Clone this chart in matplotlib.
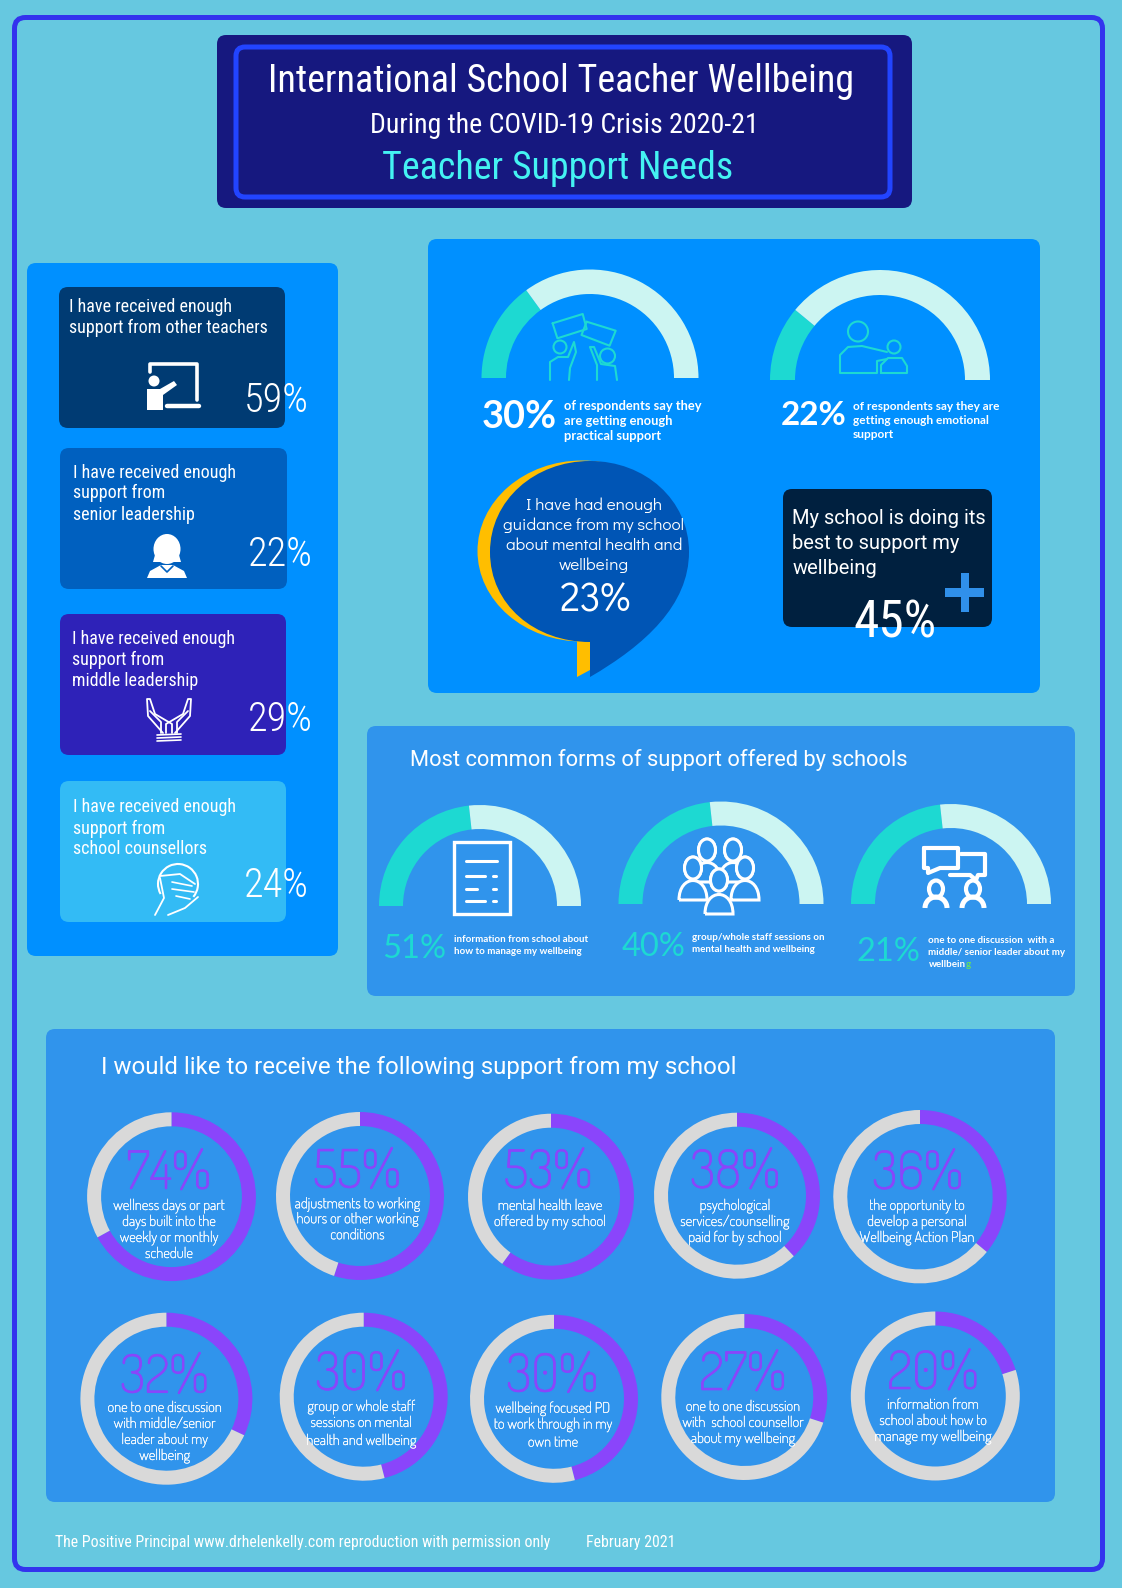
import matplotlib
matplotlib.use('Agg')
import matplotlib.pyplot as plt
import matplotlib.patches as patches
import matplotlib.patheffects as pe
from matplotlib.path import Path

# --- data ---
card_lines = [
    ['I have received enough', 'support from other teachers'],
    ['I have received enough', 'support from', 'senior leadership'],
    ['I have received enough', 'support from', 'middle leadership'],
    ['I have received enough', 'support from', 'school counsellors'],
]
card_values = ['59%', '22%', '29%', '24%']

top_labels = ['30%', '22%']
top_fill = [0.30, 0.22]
top_text = [
    ['of respondents say they', 'are getting enough', 'practical support'],
    ['of respondents say they are', 'getting enough emotional', 'support'],
]

common_labels = ['51%', '40%', '21%']
common_fill = [0.465, 0.465, 0.465]  # the arcs in the original all stop at the same place
common_text = [
    ['information from school about', 'how to manage my wellbeing'],
    ['group/whole staff sessions on', 'mental health and wellbeing'],
    ['one to one discussion  with a', 'middle/ senior leader about my', 'wellbein'],
]

ring_labels = ['74%', '55%', '53%', '38%', '36%', '32%', '30%', '30%', '27%', '20%']
ring_fill = [0.67, 0.55, 0.60, 0.38, 0.36, 0.32, 0.46, 0.46, 0.30, 0.20]  # as drawn
ring_text = [
    ['wellness days or part', 'days built into the', 'weekly or monthly', 'schedule'],
    ['adjustments to working', 'hours or other working', 'conditions'],
    ['mental health leave', 'offered by my school'],
    ['psychological', 'services/counselling', 'paid for by school'],
    ['the opportunity to', 'develop a personal', 'Wellbeing Action Plan'],
    ['one to one discussion', 'with middle/senior', 'leader about my', 'wellbeing'],
    ['group or whole staff', 'sessions on mental', 'health and wellbeing'],
    ['wellbeing focused PD', 'to work through in my', 'own time'],
    ['one to one discussion', 'with  school counsellor', 'about my wellbeing'],
    ['information from', 'school about how to', 'manage my wellbeing'],
]

# --- layout, in reference pixels ---
W, H = 1122, 1588
BG = '#66c8e0'
BRIGHT = '#0090ff'
MID = '#3094ec'
TEAL = '#1dd9d2'
PALE = '#ccf5f2'
PURPLE = '#8a45fb'
GREY = '#d9d9d9'
NARROW = ['Roboto Condensed', 'Archivo Narrow', 'Roboto']
DOSIS = ['Dosis', 'Roboto']
DIDACT = ['Didact Gothic', 'Lato']

fig = plt.figure(figsize=(W / 100, H / 100), dpi=100, facecolor=BG)
ax = fig.add_axes([0, 0, 1, 1])
ax.set_xlim(0, W)
ax.set_ylim(H, 0)
ax.axis('off')


def box(x0, y0, x1, y1, color, r=8, ec='none', lw=0, z=1):
    ax.add_patch(patches.FancyBboxPatch((x0 + r, y0 + r), x1 - x0 - 2 * r, y1 - y0 - 2 * r,
                                        boxstyle=f'round,pad={r},rounding_size={r}',
                                        facecolor=color, edgecolor=ec, linewidth=lw, zorder=z))


def txt(x, y, s, size, color='white', font='Roboto', ha='left', weight='normal', z=6, thicken=0):
    t = ax.text(x, y, s, fontsize=size, color=color, family=font, ha=ha, va='baseline',
                fontweight=weight, zorder=z)
    if thicken:
        # the Dosis here is the extra light cut, a hair of stroke brings it up to the original weight
        t.set_path_effects([pe.withStroke(linewidth=thicken, foreground=color)])
    return t


def line(pts, color='white', lw=2.0, z=5):
    ax.plot([p[0] for p in pts], [p[1] for p in pts], color=color, lw=lw, zorder=z,
            solid_capstyle='round', solid_joinstyle='round')


def poly(pts, color='white', z=5):
    ax.add_patch(patches.Polygon(pts, closed=True, facecolor=color, edgecolor='none', zorder=z))


def circle(x, y, r, color='white', lw=2.0, fill=False, z=5):
    ax.add_patch(patches.Circle((x, y), r, facecolor=color if fill else 'none',
                                edgecolor=color, linewidth=lw, zorder=z))


def gauge(cx, cy, r, width, frac):
    # y axis is inverted, so angles run clockwise on screen
    split = 180 + 180 * frac
    ax.add_patch(patches.Wedge((cx, cy), r, 180, split, width=width, facecolor=TEAL, edgecolor='none', zorder=3))
    ax.add_patch(patches.Wedge((cx, cy), r, split, 360, width=width, facecolor=PALE, edgecolor='none', zorder=3))


def ring(cx, cy, r, frac):
    split = -90 + 360 * frac
    ax.add_patch(patches.Wedge((cx, cy), r, -90, split, width=14, facecolor=PURPLE, edgecolor='none', zorder=3))
    ax.add_patch(patches.Wedge((cx, cy), r, split, 270, width=14, facecolor=GREY, edgecolor='none', zorder=3))


# --- frame ---
box(14.5, 17.5, 1102.5, 1569.5, BG, r=11, ec='#3333ee', lw=3.6, z=0)

# --- header ---
box(217, 35, 912, 208, '#16187f', r=9)
box(236, 47, 890, 197, '#16187f', r=9, ec='#2244ff', lw=3.6)
txt(561, 92, 'International School Teacher Wellbeing', 27.4, font=NARROW, ha='center')
txt(564, 133, 'During the COVID-19 Crisis 2020-21', 20.1, font=NARROW, ha='center')
txt(557.5, 179, 'Teacher Support Needs', 27.4, color='#44f2f2', font=NARROW, ha='center')

# --- left panel ---
box(27, 263, 338, 956, BRIGHT, r=9)
card_rects = [(59, 287, 285, 428), (60, 448, 287, 589), (60, 614, 286, 755), (60, 781, 286, 922)]
card_colors = ['#003b73', '#0060bf', '#2e22b8', '#33bbf5']
card_text_xy = [(69, 312), (73, 477.5), (72.5, 644), (73, 812.5)]
card_value_xy = [(244, 412), (247.5, 565.5), (247.5, 731), (243.5, 897)]
for rect, col, tp, vp, lines, val in zip(card_rects, card_colors, card_text_xy, card_value_xy, card_lines, card_values):
    box(*rect, col, r=9, z=2)
    for i, s in enumerate(lines):
        txt(tp[0], tp[1] + 21 * i, s, 13, font=NARROW)
    txt(vp[0], vp[1], val, 29, font=NARROW, weight=300)

# teacher at a board
line([(150, 372), (150, 364), (197, 364), (197, 400)], lw=2.6)
line([(167, 405.5), (199, 405.5)], lw=3.2)
circle(154, 381, 5.5, fill=True, lw=0)
poly([(147, 389), (160, 389), (174, 381), (177, 385), (163, 395), (163, 410), (147, 410)])

# woman with collar
ax.add_patch(patches.Ellipse((167, 549), 27, 30, facecolor='white', edgecolor='none', zorder=5))
poly([(153, 562), (157, 548), (177, 548), (181, 562)])
poly([(147, 578), (150, 571), (161, 565), (173, 565), (184, 571), (187, 578)])
line([(161, 566), (167, 572), (173, 566)], color='#0060bf', lw=1.2, z=6)

# open hands
for sgn in (-1, 1):
    mx = 169
    hand = [(3, 733), (3, 724), (-14, 714), (-19, 699), (-22, 699), (-21, 716), (-6, 733)]
    line([(mx + sgn * a, b) for a, b in hand], lw=1.3)
    line([(mx + sgn * 8, 733), (mx + sgn * 8, 722), (mx + sgn * 19, 711)], lw=1.3)
for yy in (734, 737, 740):
    line([(157, yy + 1), (181, yy)], lw=1.2)

# hand over a face
ax.add_patch(patches.Arc((178, 884), 40, 40, theta1=150, theta2=400, edgecolor='white', lw=1.5, zorder=5))
line([(160, 876), (180, 874), (195, 884)], lw=1.3)
line([(160, 878), (164, 898), (155, 915)], lw=1.3)
line([(168, 915), (185, 908), (198, 897)], lw=1.3)
line([(172, 882), (192, 886)], lw=1.2)
line([(172, 889), (194, 892)], lw=1.2)
line([(176, 896), (190, 899)], lw=1.2)

# --- top right panel ---
box(428, 239, 1040, 693, BRIGHT, r=9)
gauge(590, 378, 108.5, 24.5, top_fill[0])
gauge(880, 380, 110, 25, top_fill[1])
txt(482, 428, top_labels[0], 27.3, font='Lato', weight='bold')
txt(781, 425, top_labels[1], 24, font='Lato', weight='bold')
for i, s in enumerate(top_text[0]):
    txt(564, 410 + 15 * i, s, 9.3, font='Lato', weight='bold')
for i, s in enumerate(top_text[1]):
    txt(853, 410 + 14 * i, s, 8.6, font='Lato', weight='bold')

# people holding up signs
for sign in ([(552.6, 323.3), (582.7, 314), (586.7, 329), (557.4, 338.3), (552.6, 323.3)],
             [(586.7, 321.7), (615.7, 330.7), (609.6, 345.7), (581.5, 335), (586.7, 321.7)]):
    line(sign, color=TEAL, lw=1.5)
circle(560, 347, 6.5, color=TEAL, lw=1.5)
circle(607.5, 356, 7.5, color=TEAL, lw=1.5)
line([(550, 380), (550, 362), (558, 357), (568, 357), (574, 342), (576, 352), (570, 368), (569, 380)], color=TEAL, lw=1.5)
line([(597, 380), (597, 365), (590, 347), (594, 347), (601, 364), (615, 366), (617, 380)], color=TEAL, lw=1.5)

# two people talking
circle(858, 331.5, 10, color=TEAL, lw=1.5)
circle(894, 347, 6.5, color=TEAL, lw=1.5)
line([(887, 352), (862, 346), (848, 347), (840, 355), (840, 373), (877, 373), (877, 361), (887, 359)], color=TEAL, lw=1.5)
line([(881, 373), (907, 373), (907, 366), (902, 358), (888, 358), (881, 365), (881, 373)], color=TEAL, lw=1.5)

# speech bubble
ax.add_patch(patches.Ellipse((582, 551), 209, 181, facecolor='#ffbe00', edgecolor='none', zorder=3))
poly([(577, 640), (590, 640), (590, 670), (577, 677)], color='#ffbe00', z=3)
bubble = Path([(590, 461), (645, 461), (689, 500), (689, 552), (689, 605), (645, 645), (590, 677),
               (590, 642), (535, 642), (490, 605), (490, 552), (490, 500), (535, 461), (590, 461)],
              [Path.MOVETO, Path.CURVE4, Path.CURVE4, Path.CURVE4, Path.CURVE4, Path.CURVE4, Path.CURVE4,
               Path.LINETO, Path.CURVE4, Path.CURVE4, Path.CURVE4, Path.CURVE4, Path.CURVE4, Path.CURVE4])
ax.add_patch(patches.PathPatch(bubble, facecolor='#0055b5', edgecolor='none', zorder=4))
for s, yy in zip(['I have had enough', 'guidance from my school', 'about mental health and', 'wellbeing'],
                 [510, 530, 550, 570]):
    txt(594, yy, s, 12.3, font=DIDACT, ha='center')
txt(596, 612, '23%', 29, font=DIDACT, ha='center')

# school box
box(783, 489, 992, 627, '#00203f', r=9, z=3)
for s, yy in zip(['My school is doing its', 'best to support my', 'wellbeing'], [524, 549, 574]):
    txt(792.5, yy, s, 14.5, font='Roboto')
ax.add_patch(patches.Rectangle((945.5, 588), 39, 9, facecolor='#3090ea', edgecolor='none', zorder=5))
ax.add_patch(patches.Rectangle((961, 573), 8, 39, facecolor='#3090ea', edgecolor='none', zorder=5))
txt(895, 637, '45%', 37, font=NARROW, ha='center')

# --- middle panel ---
box(367, 726, 1075, 996, MID, r=9)
txt(410, 766, 'Most common forms of support offered by schools', 15.75, font='Roboto')
gauge_xy = [(480, 906, 101), (721, 904, 102.5), (951, 904, 100)]
value_xy = [(382, 957.5), (622, 955.5), (856.5, 961)]
text_xy = [(454, 941.5), (692, 940), (928.5, 943)]
for (cx, cy, r), f, lab, vp, tp, lines in zip(gauge_xy, common_fill, common_labels, value_xy, text_xy, common_text):
    gauge(cx, cy, r, 24, f)
    txt(vp[0], vp[1], lab, 23.5, color=TEAL, font='Lato')
    for i, s in enumerate(lines):
        last = txt(tp[0], tp[1] + 12 * i, s, 7.1, font='Lato', weight='bold')
ax.annotate('g', xy=(1, 0), xycoords=last, va='bottom', ha='left', fontsize=7.1, color='#66e060',
            family='Lato', fontweight='bold', zorder=6)

# document
ax.add_patch(patches.Rectangle((454, 842), 56, 72, facecolor='none', edgecolor='white', linewidth=2.4, zorder=5))
line([(466, 861), (497, 861)], lw=2.2)
for yy, x1 in zip([876, 888.5, 901], [485, 477, 485]):
    line([(466, yy), (x1, yy)], lw=2.2)
    line([(493, yy), (496, yy)], lw=2.2)

# group of people
for hx, hy, by in [(707, 850, 880), (733, 850, 880), (693, 868, 898), (745, 868, 898), (719, 880, 912)]:
    ax.add_patch(patches.Ellipse((hx, hy), 17, 22, facecolor=MID, edgecolor='white', linewidth=2.2, zorder=5))
    body = Path([(hx - 14, by + 2), (hx - 14, by - 24), (hx + 14, by - 24), (hx + 14, by + 2), (hx - 14, by + 2)],
                [Path.MOVETO, Path.CURVE4, Path.CURVE4, Path.CURVE4, Path.LINETO])
    ax.add_patch(patches.PathPatch(body, facecolor=MID, edgecolor='white', linewidth=2.2, zorder=5))
    ax.add_patch(patches.Ellipse((hx, hy), 17, 22, facecolor=MID, edgecolor='white', linewidth=2.2, zorder=6))

# chat between two people
line([(924, 848), (958, 848), (958, 868), (940, 868), (928, 873), (928, 868), (924, 868), (924, 848)], lw=3)
line([(961, 854), (985, 854), (985, 875), (978, 875), (976, 880), (970, 875), (950, 875)], lw=3)
for hx in (936, 973):
    ax.add_patch(patches.Ellipse((hx, 889), 14, 17, facecolor='none', edgecolor='white', linewidth=3, zorder=5))
    ax.add_patch(patches.Arc((hx, 908), 22, 22, theta1=180, theta2=360, edgecolor='white', lw=3.6, zorder=5))

# --- bottom panel ---
box(46, 1029, 1055, 1502, MID, r=9)
txt(101, 1074, 'I would like to receive the following support from my school', 17.25, font='Roboto')
ring_xy = [(171.5, 1196.7, 84.4), (360, 1196, 84), (551, 1196.7, 83), (737, 1195.7, 83), (920, 1196.7, 86.7),
           (166.4, 1398.7, 86), (363.7, 1396.7, 84), (554, 1398.8, 84), (744.3, 1397, 83), (935.3, 1396, 84.5)]
label_xy = [(168.6, 1189), (357, 1187.7), (548, 1188), (735, 1188), (917.5, 1189),
            (164.3, 1392.7), (361, 1390), (552, 1391.7), (742.7, 1390), (933, 1389)]
caption_x = [169, 357.5, 550, 735, 917, 164.7, 361.3, 553, 743, 933]
caption_y = [[1210, 1226, 1242, 1258], [1208.3, 1223.3, 1239.3], [1210, 1226], [1210, 1226, 1242], [1210, 1226, 1242],
             [1412, 1428, 1444, 1460], [1411, 1427, 1445], [1412.7, 1428.7, 1446.7], [1411, 1427, 1443], [1409, 1425, 1441]]
for (cx, cy, r), f, lab, lp, tx, tys, lines in zip(ring_xy, ring_fill, ring_labels, label_xy, caption_x, caption_y, ring_text):
    ring(cx, cy, r, f)
    txt(lp[0], lp[1], lab, 38, color=PURPLE, font=DOSIS, ha='center', thicken=0.5)
    for s, yy in zip(lines, tys):
        txt(tx, yy, s, 10.5, font=DOSIS, ha='center', thicken=0.2)

# --- footer ---
txt(55, 1546.5, 'The Positive Principal www.drhelenkelly.com reproduction with permission only', 11.4, font=NARROW)
txt(586, 1546.5, 'February 2021', 11.4, font=NARROW)

fig.savefig('out.png', dpi=100, facecolor=BG)
